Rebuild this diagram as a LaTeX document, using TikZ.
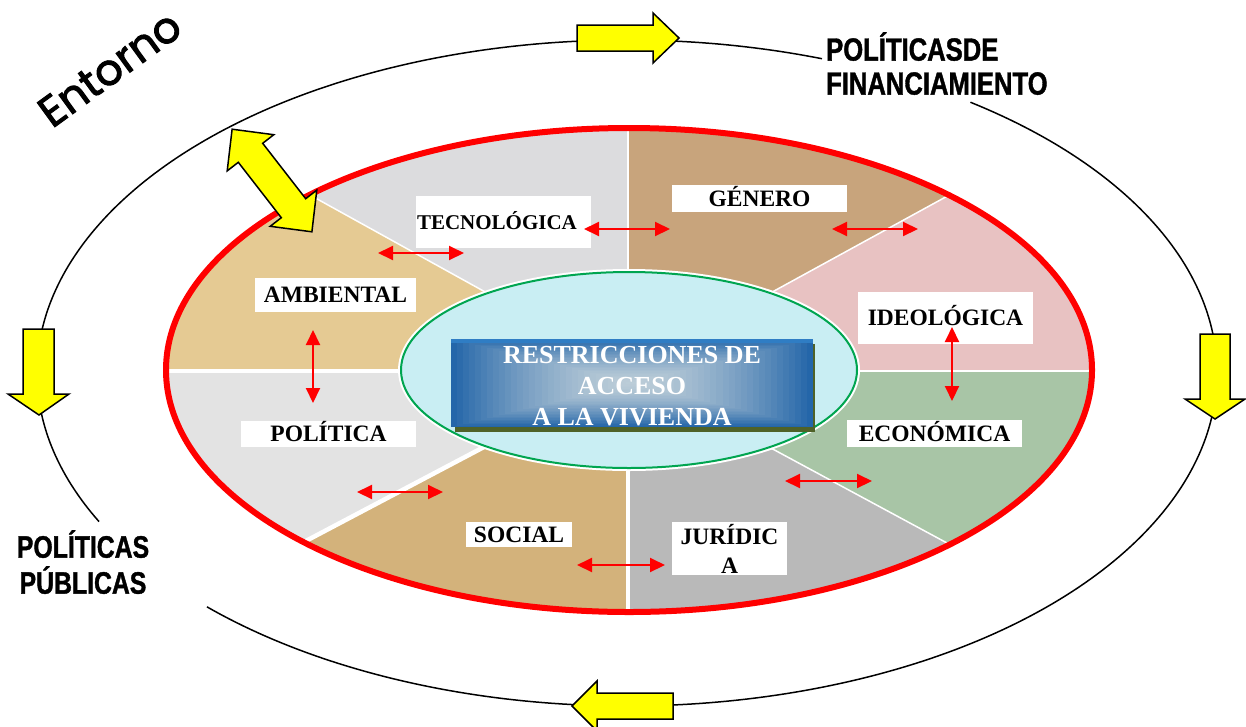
\documentclass[tikz,border=0pt]{standalone}
\usepackage{fontspec}
\setmainfont{Liberation Serif}
\newfontfamily\narrowsans[FakeStretch=0.8,FakeBold=1.2]{Liberation Sans Bold}
\newfontfamily\handfont[FakeBold=2.2]{Poppins}
\usetikzlibrary{arrows.meta}
\definecolor{ideo}{HTML}{E8C2C2}
\definecolor{gene}{HTML}{C8A47C}
\definecolor{tecn}{HTML}{DCDCDE}
\definecolor{ambi}{HTML}{E5CA93}
\definecolor{poli}{HTML}{E3E3E3}
\definecolor{soci}{HTML}{D3B27B}
\definecolor{juri}{HTML}{B9B9B9}
\definecolor{econ}{HTML}{A8C5A6}
\definecolor{core}{HTML}{C9EEF3}
\definecolor{coreline}{HTML}{00A550}
\definecolor{boxdark}{HTML}{2466A9}
\definecolor{boxtop}{HTML}{2F7DC4}
\definecolor{boxlight}{HTML}{BCCDD8}
\definecolor{boxshadow}{HTML}{4F6228}
\definecolor{arrowyellow}{HTML}{FFFF00}
\tikzset{
  outerline/.style={black, line width=1.5},
  yarrow/.style={fill=arrowyellow, draw=black, line width=1.5, line join=miter},
  lbl/.style={fill=white, inner sep=0pt, font=\bfseries\fontsize{23.5}{28}\selectfont, align=center},
  capsbox/.style={text height=15.5, text depth=0},
  rarr/.style={draw=red, line width=2, {Triangle[length=15pt,width=14pt]}-{Triangle[length=15pt,width=14pt]}},
  sectorline/.style={white, line width=1.5},
  sectorthick/.style={white, line width=4.5},
  outertext/.style={font=\narrowsans\fontsize{32}{34}\selectfont, inner sep=0pt}
}
\begin{document}
\begin{tikzpicture}[x=1pt,y=-1pt]
\useasboundingbox (0,0) rectangle (1246,726);
\fill[white] (0,0) rectangle (1246,726);

% outer environment ellipse (broken near the labels)
\draw[outerline] plot[domain=70.7:206.5, samples=160] ({627+590*cos(\x)},{373-333*sin(\x)});
\draw[outerline] plot[domain=224.6:414.4, samples=200] ({627+590*cos(\x)},{373-333*sin(\x)});

% sectors
\coordinate (C) at (628,371);
\begin{scope}
  \clip (629,370) ellipse [x radius=463, y radius=242];
  \fill[ideo] (C) -- (1300,371) -- (1256,27) -- cycle;
  \fill[gene] (C) -- (1256,27) -- (628,-100) -- cycle;
  \fill[tecn] (C) -- (628,-100) -- (10,29) -- cycle;
  \fill[ambi] (C) -- (10,29) -- (-50,371) -- cycle;
  \fill[poli] (C) -- (-50,371) -- (-24,715) -- cycle;
  \fill[soci] (C) -- (-24,715) -- (628,800) -- cycle;
  \fill[juri] (C) -- (628,800) -- (1266,715) -- cycle;
  \fill[econ] (C) -- (1266,715) -- (1300,371) -- cycle;
  \draw[sectorline] (C) -- (1300,371);
  \draw[sectorline] (C) -- (1256,27);
  \draw[sectorline] (C) -- (628,-100);
  \draw[sectorline] (C) -- (10,29);
  \draw[sectorthick] (C) -- (-50,371);
  \draw[sectorthick] (C) -- (-24,715);
  \draw[sectorthick] (C) -- (628,800);
  \draw[sectorline] (C) -- (1266,715);
\end{scope}
\draw[red, line width=6] (629,370) ellipse [x radius=463, y radius=242];

% core ellipse
\draw[white, line width=6] (629,370) ellipse [x radius=228, y radius=98];
\fill[core] (629,370) ellipse [x radius=228, y radius=98];
\draw[coreline, line width=2] (629,370) ellipse [x radius=228, y radius=98];

% title box
\fill[boxshadow] (455,344) rectangle (815,432);
\foreach \i in {0,...,29}{
  \pgfmathsetmacro\f{1-\i/30}
  \pgfmathsetmacro\p{100*(1-\f^1.6)}
  \fill[boxlight!\p!boxdark] ({632-181*\f},{383-44*\f}) rectangle ({632+181*\f},{383+44*\f});
}
\fill[boxtop] (451,339) rectangle (813,343);
\node[text=white, font=\bfseries\fontsize{26}{31}\selectfont, align=center, inner sep=0pt] (title) at (632,386)
  {RESTRICCIONES DE\\ACCESO\\A LA VIVIENDA};

% labels
\node[lbl, capsbox, minimum width=175, minimum height=52, text width=173, align=left, font=\bfseries\fontsize{21}{24}\selectfont] (tec) at (503.5,222) {TECNOLÓGICA};
\node[lbl, capsbox, minimum width=175, minimum height=27] (gen) at (759.5,198.5) {GÉNERO};
\node[lbl, capsbox, minimum width=175, minimum height=52] (ideo) at (945.5,318) {IDEOLÓGICA};
\node[lbl, capsbox, minimum width=161, minimum height=34] (amb) at (335.5,295) {AMBIENTAL};
\node[lbl, capsbox, minimum width=175, minimum height=26] (pol) at (328.5,434) {POLÍTICA};
\node[lbl, capsbox, minimum width=106, minimum height=25] (soc) at (519,534.5) {SOCIAL};
\node[lbl, capsbox, minimum width=175, minimum height=27] (eco) at (934.5,433.5) {ECONÓMICA};
\node[lbl, minimum width=115, minimum height=53, font=\bfseries\fontsize{23.5}{29}\selectfont] (jur) at (729.5,548.5) {JURÍDIC\\A};

% red double arrows
\coordinate (a1s) at (584,229); \coordinate (a1e) at (670,229);
\coordinate (a2s) at (832,229); \coordinate (a2e) at (918,229);
\coordinate (a3s) at (378,253); \coordinate (a3e) at (464,253);
\coordinate (a4s) at (313,330); \coordinate (a4e) at (313,403);
\coordinate (a5s) at (357,492); \coordinate (a5e) at (443,492);
\coordinate (a6s) at (577,565); \coordinate (a6e) at (665,565);
\coordinate (a7s) at (785,481); \coordinate (a7e) at (872,481);
\coordinate (a8s) at (952,327); \coordinate (a8e) at (952,401);
\draw[rarr] (a1s) -- (a1e);
\draw[rarr] (a2s) -- (a2e);
\draw[rarr] (a3s) -- (a3e);
\draw[rarr] (a4s) -- (a4e);
\draw[rarr] (a5s) -- (a5e);
\draw[rarr] (a6s) -- (a6e);
\draw[rarr] (a7s) -- (a7e);
\draw[rarr] (a8s) -- (a8e);

% yellow block arrows on the outer ellipse
\draw[yarrow] (577,25) -- (653,25) -- (653,13) -- (679,38) -- (653,63) -- (653,51) -- (577,51) -- cycle;
\draw[yarrow] (1200,334) -- (1230,334) -- (1230,399) -- (1245,399) -- (1215,419) -- (1185,399) -- (1200,399) -- cycle;
\draw[yarrow] (673,693) -- (597,693) -- (597,681) -- (572,706) -- (597,731) -- (597,719) -- (673,719) -- cycle;
\draw[yarrow] (23,329) -- (54,329) -- (54,394) -- (69,394) -- (39,415) -- (8,394) -- (23,394) -- cycle;
% double arrow between environment and the restrictions
\draw[yarrow] (232.1,129.2) -- (273.8,134.7) -- (262.7,143.3) -- (305.7,198.7) -- (316.8,190.1)
  -- (311.9,231.8) -- (270.2,226.3) -- (281.3,217.7) -- (238.3,162.3) -- (227.2,170.9) -- cycle;

% outer texts
\node[outertext, align=left, anchor=north west] (fin) at (826,32) {POLÍTICASDE\\FINANCIAMIENTO};
\node[outertext, align=center, anchor=north, font=\narrowsans\fontsize{31}{36}\selectfont] (pub) at (83,530) {POLÍTICAS\\PÚBLICAS};
\node[font=\handfont\fontsize{43}{43}\selectfont, rotate=36, anchor=base west, inner sep=0pt] (ent) at (52,129) {Entorno};
\end{tikzpicture}
\end{document}
